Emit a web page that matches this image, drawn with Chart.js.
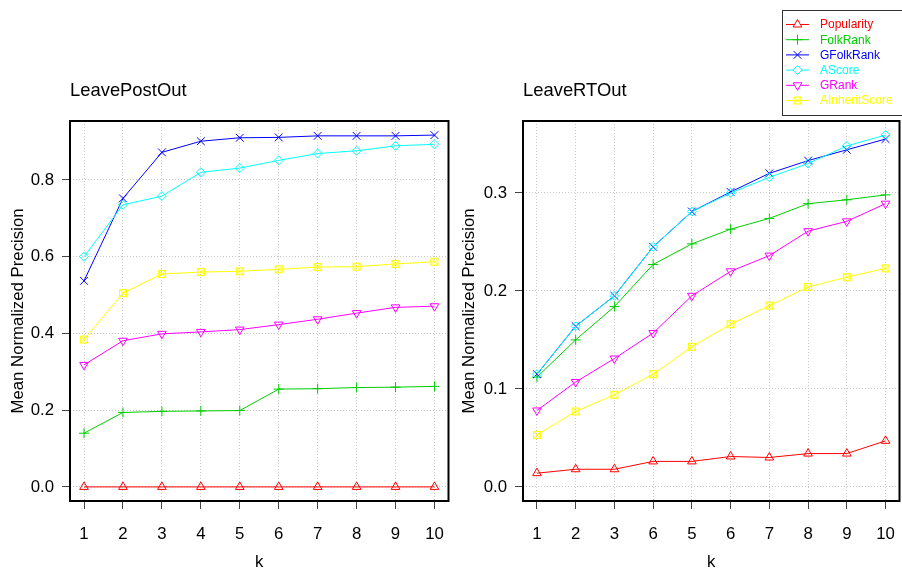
<!DOCTYPE html>
<html>
<head>
<meta charset="utf-8">
<script src="https://cdn.jsdelivr.net/npm/chart.js@4"></script>
<style>
  body { margin: 0; background: #fff; overflow: hidden; }
  #wrap { position: relative; width: 902px; height: 570px; overflow: hidden; }
  canvas { position: absolute; top: 0; }
</style>
</head>
<body>
<div id="wrap">
  <canvas id="leftChart" width="455" height="572" style="left:0"></canvas>
  <canvas id="rightChart" width="455" height="572" style="left:451px"></canvas>
</div>
<script>
// ---- data ----
const kValues = [1, 2, 3, 4, 5, 6, 7, 8, 9, 10];
const seriesNames = ['Popularity', 'FolkRank', 'GFolkRank', 'AScore', 'GRank', 'AInheritScore'];
const seriesColors = ['#FF0000', '#00CD00', '#0000FF', '#00FFFF', '#FF00FF', '#FFFF00'];

// LeavePostOut
const postPopularity = [0, 0, 0, 0, 0, 0, 0, 0, 0, 0];
const postFolkRank = [0.140, 0.194, 0.197, 0.198, 0.199, 0.255, 0.256, 0.259, 0.260, 0.262];
const postGFolkRank = [0.537, 0.752, 0.872, 0.901, 0.910, 0.911, 0.915, 0.915, 0.915, 0.917];
const postAScore = [0.600, 0.735, 0.758, 0.820, 0.831, 0.851, 0.869, 0.876, 0.889, 0.893];
const postGRank = [0.318, 0.381, 0.399, 0.404, 0.410, 0.423, 0.437, 0.453, 0.468, 0.471];
const postAInheritScore = [0.384, 0.505, 0.555, 0.560, 0.562, 0.567, 0.573, 0.574, 0.581, 0.587];
const postTickLabels = ['1', '2', '3', '4', '5', '6', '7', '8', '9', '10'];
const postYTicks = [0, 0.2, 0.4, 0.6, 0.8];

// LeaveRTOut
const rtPopularity = [0.014, 0.018, 0.018, 0.026, 0.026, 0.031, 0.030, 0.034, 0.034, 0.047];
const rtFolkRank = [0.112, 0.150, 0.184, 0.227, 0.248, 0.263, 0.274, 0.289, 0.293, 0.298];
const rtGFolkRank = [0.115, 0.164, 0.195, 0.245, 0.281, 0.301, 0.320, 0.333, 0.344, 0.355];
const rtAScore = [0.115, 0.164, 0.195, 0.245, 0.281, 0.300, 0.316, 0.330, 0.348, 0.359];
const rtGRank = [0.078, 0.107, 0.131, 0.157, 0.195, 0.220, 0.236, 0.261, 0.271, 0.289];
const rtAInheritScore = [0.053, 0.077, 0.094, 0.115, 0.143, 0.166, 0.185, 0.204, 0.214, 0.223];
const rtTickLabels = ['1', '2', '3', '6', '5', '6', '7', '8', '9', '10'];
const rtYTicks = [0, 0.1, 0.2, 0.3];

const FONT = '"Liberation Sans", Arial, sans-serif';

// boxed cross symbol (R pch 7)
function boxedCross(color) {
  const c = document.createElement('canvas');
  c.width = 10; c.height = 10;
  const g = c.getContext('2d');
  g.strokeStyle = color; g.lineWidth = 1;
  g.strokeRect(1.5, 1.5, 7, 7);
  g.beginPath();
  g.moveTo(1.5, 1.5); g.lineTo(8.5, 8.5);
  g.moveTo(8.5, 1.5); g.lineTo(1.5, 8.5);
  g.stroke();
  return c;
}

const pointStyles = [
  { style: 'triangle', radius: 5, rotation: 0 },
  { style: 'cross', radius: 5, rotation: 0 },
  { style: 'crossRot', radius: 5.5, rotation: 0 },
  { style: 'rectRot', radius: 4.5, rotation: 0 },
  { style: 'triangle', radius: 5, rotation: 180 },
  { style: boxedCross(seriesColors[5]), radius: 5, rotation: 0 }
];

// box + title drawn on top, like R's box()
const framePlugin = {
  id: 'frame',
  afterDatasetsDraw(chart, args, opts) {
    const { ctx, chartArea: a } = chart;
    ctx.save();
    ctx.strokeStyle = '#000';
    ctx.lineWidth = 2;
    ctx.strokeRect(a.left, a.top, a.right - a.left, a.bottom - a.top);
    ctx.fillStyle = '#000';
    ctx.font = '18.4px ' + FONT;
    ctx.textAlign = 'left';
    ctx.textBaseline = 'alphabetic';
    ctx.fillText(opts.text, a.left, 96);
    ctx.restore();
  }
};

// legend box in the top right corner
const legendPlugin = {
  id: 'cornerLegend',
  afterDraw(chart, args, opts) {
    if (!opts.show) return;
    const ctx = chart.ctx;
    const x0 = opts.x, y0 = opts.y;
    ctx.save();
    ctx.fillStyle = '#fff';
    ctx.fillRect(x0, y0, 130, 105);
    ctx.strokeStyle = '#333';
    ctx.lineWidth = 1;
    ctx.strokeRect(x0 + 0.5, y0 + 0.5, 130, 105);
    chart.data.datasets.forEach((ds, i) => {
      const y = y0 + 14.5 + i * 15.2;
      ctx.strokeStyle = ds.borderColor;
      ctx.lineWidth = 1;
      ctx.beginPath();
      ctx.moveTo(x0 + 4, y);
      ctx.lineTo(x0 + 27, y);
      ctx.stroke();
      ctx.fillStyle = '#fff';
      Chart.helpers.drawPoint(ctx, {
        pointStyle: pointStyles[i].style,
        radius: pointStyles[i].radius,
        rotation: pointStyles[i].rotation,
        borderWidth: 1
      }, x0 + 15.5, y);
      ctx.fillStyle = ds.borderColor;
      ctx.font = '12px ' + FONT;
      ctx.textAlign = 'left';
      ctx.textBaseline = 'middle';
      ctx.fillText(ds.label, x0 + 38, y + 0.5);
    });
    ctx.restore();
  }
};

function makeChart(id, series, tickLabels, yTicks, yMin, yMax, yAxisWidth, padRight, title, legend) {
  const datasets = series.map((vals, i) => ({
    label: seriesNames[i],
    data: kValues.map((k, j) => ({ x: k, y: vals[j] })),
    borderColor: seriesColors[i],
    backgroundColor: 'transparent',
    borderWidth: 1,
    pointStyle: pointStyles[i].style,
    pointRadius: pointStyles[i].radius,
    pointRotation: pointStyles[i].rotation,
    pointBorderWidth: 1,
    pointBorderColor: seriesColors[i],
    pointBackgroundColor: 'transparent',
    tension: 0,
    order: -i
  }));

  const tickFont = { family: FONT, size: 16.8 };

  return new Chart(document.getElementById(id), {
    type: 'line',
    data: { datasets },
    plugins: [framePlugin, legendPlugin],
    options: {
      responsive: false,
      animation: false,
      layout: { padding: { top: 121, right: padRight, bottom: 0, left: 0 } },
      plugins: {
        legend: { display: false },
        tooltip: { enabled: false },
        frame: { text: title },
        cornerLegend: legend
      },
      scales: {
        x: {
          type: 'linear',
          min: 0.64,
          max: 10.36,
          afterBuildTicks: s => { s.ticks = kValues.map(v => ({ value: v })); },
          afterFit: s => { s.height = 71; s.paddingLeft = 0; s.paddingRight = 0; },
          ticks: {
            callback: (v, i) => tickLabels[i],
            font: tickFont,
            color: '#000',
            padding: 15,
            maxRotation: 0,
            autoSkip: false
          },
          grid: { color: '#c8c8c8', tickColor: '#444', tickLength: 8, lineWidth: 1 },
          border: { display: false, dash: [1, 2] },
          title: { display: true, text: 'k', font: tickFont, color: '#000', padding: { top: 0, bottom: 0 } }
        },
        y: {
          min: yMin,
          max: yMax,
          afterBuildTicks: s => { s.ticks = yTicks.map(v => ({ value: v })); },
          afterFit: s => { s.width = yAxisWidth; s.paddingTop = 0; s.paddingBottom = 0; },
          ticks: {
            callback: v => v.toFixed(1),
            font: tickFont,
            color: '#000',
            padding: 8
          },
          grid: { color: '#c8c8c8', tickColor: '#444', tickLength: 8, lineWidth: 1 },
          border: { display: false, dash: [1, 2] },
          title: {
            display: true,
            text: 'Mean Normalized Precision',
            font: tickFont,
            color: '#000',
            padding: { top: 8, bottom: 0 }
          }
        }
      }
    }
  });
}

makeChart('leftChart',
  [postPopularity, postFolkRank, postGFolkRank, postAScore, postGRank, postAInheritScore],
  postTickLabels, postYTicks, -0.0367, 0.9537, 70, 4, 'LeavePostOut', { show: false });

makeChart('rightChart',
  [rtPopularity, rtFolkRank, rtGFolkRank, rtAScore, rtGRank, rtAInheritScore],
  rtTickLabels, rtYTicks, -0.0144, 0.3734, 72, 3, 'LeaveRTOut', { show: true, x: 331, y: 10 });
</script>
</body>
</html>
